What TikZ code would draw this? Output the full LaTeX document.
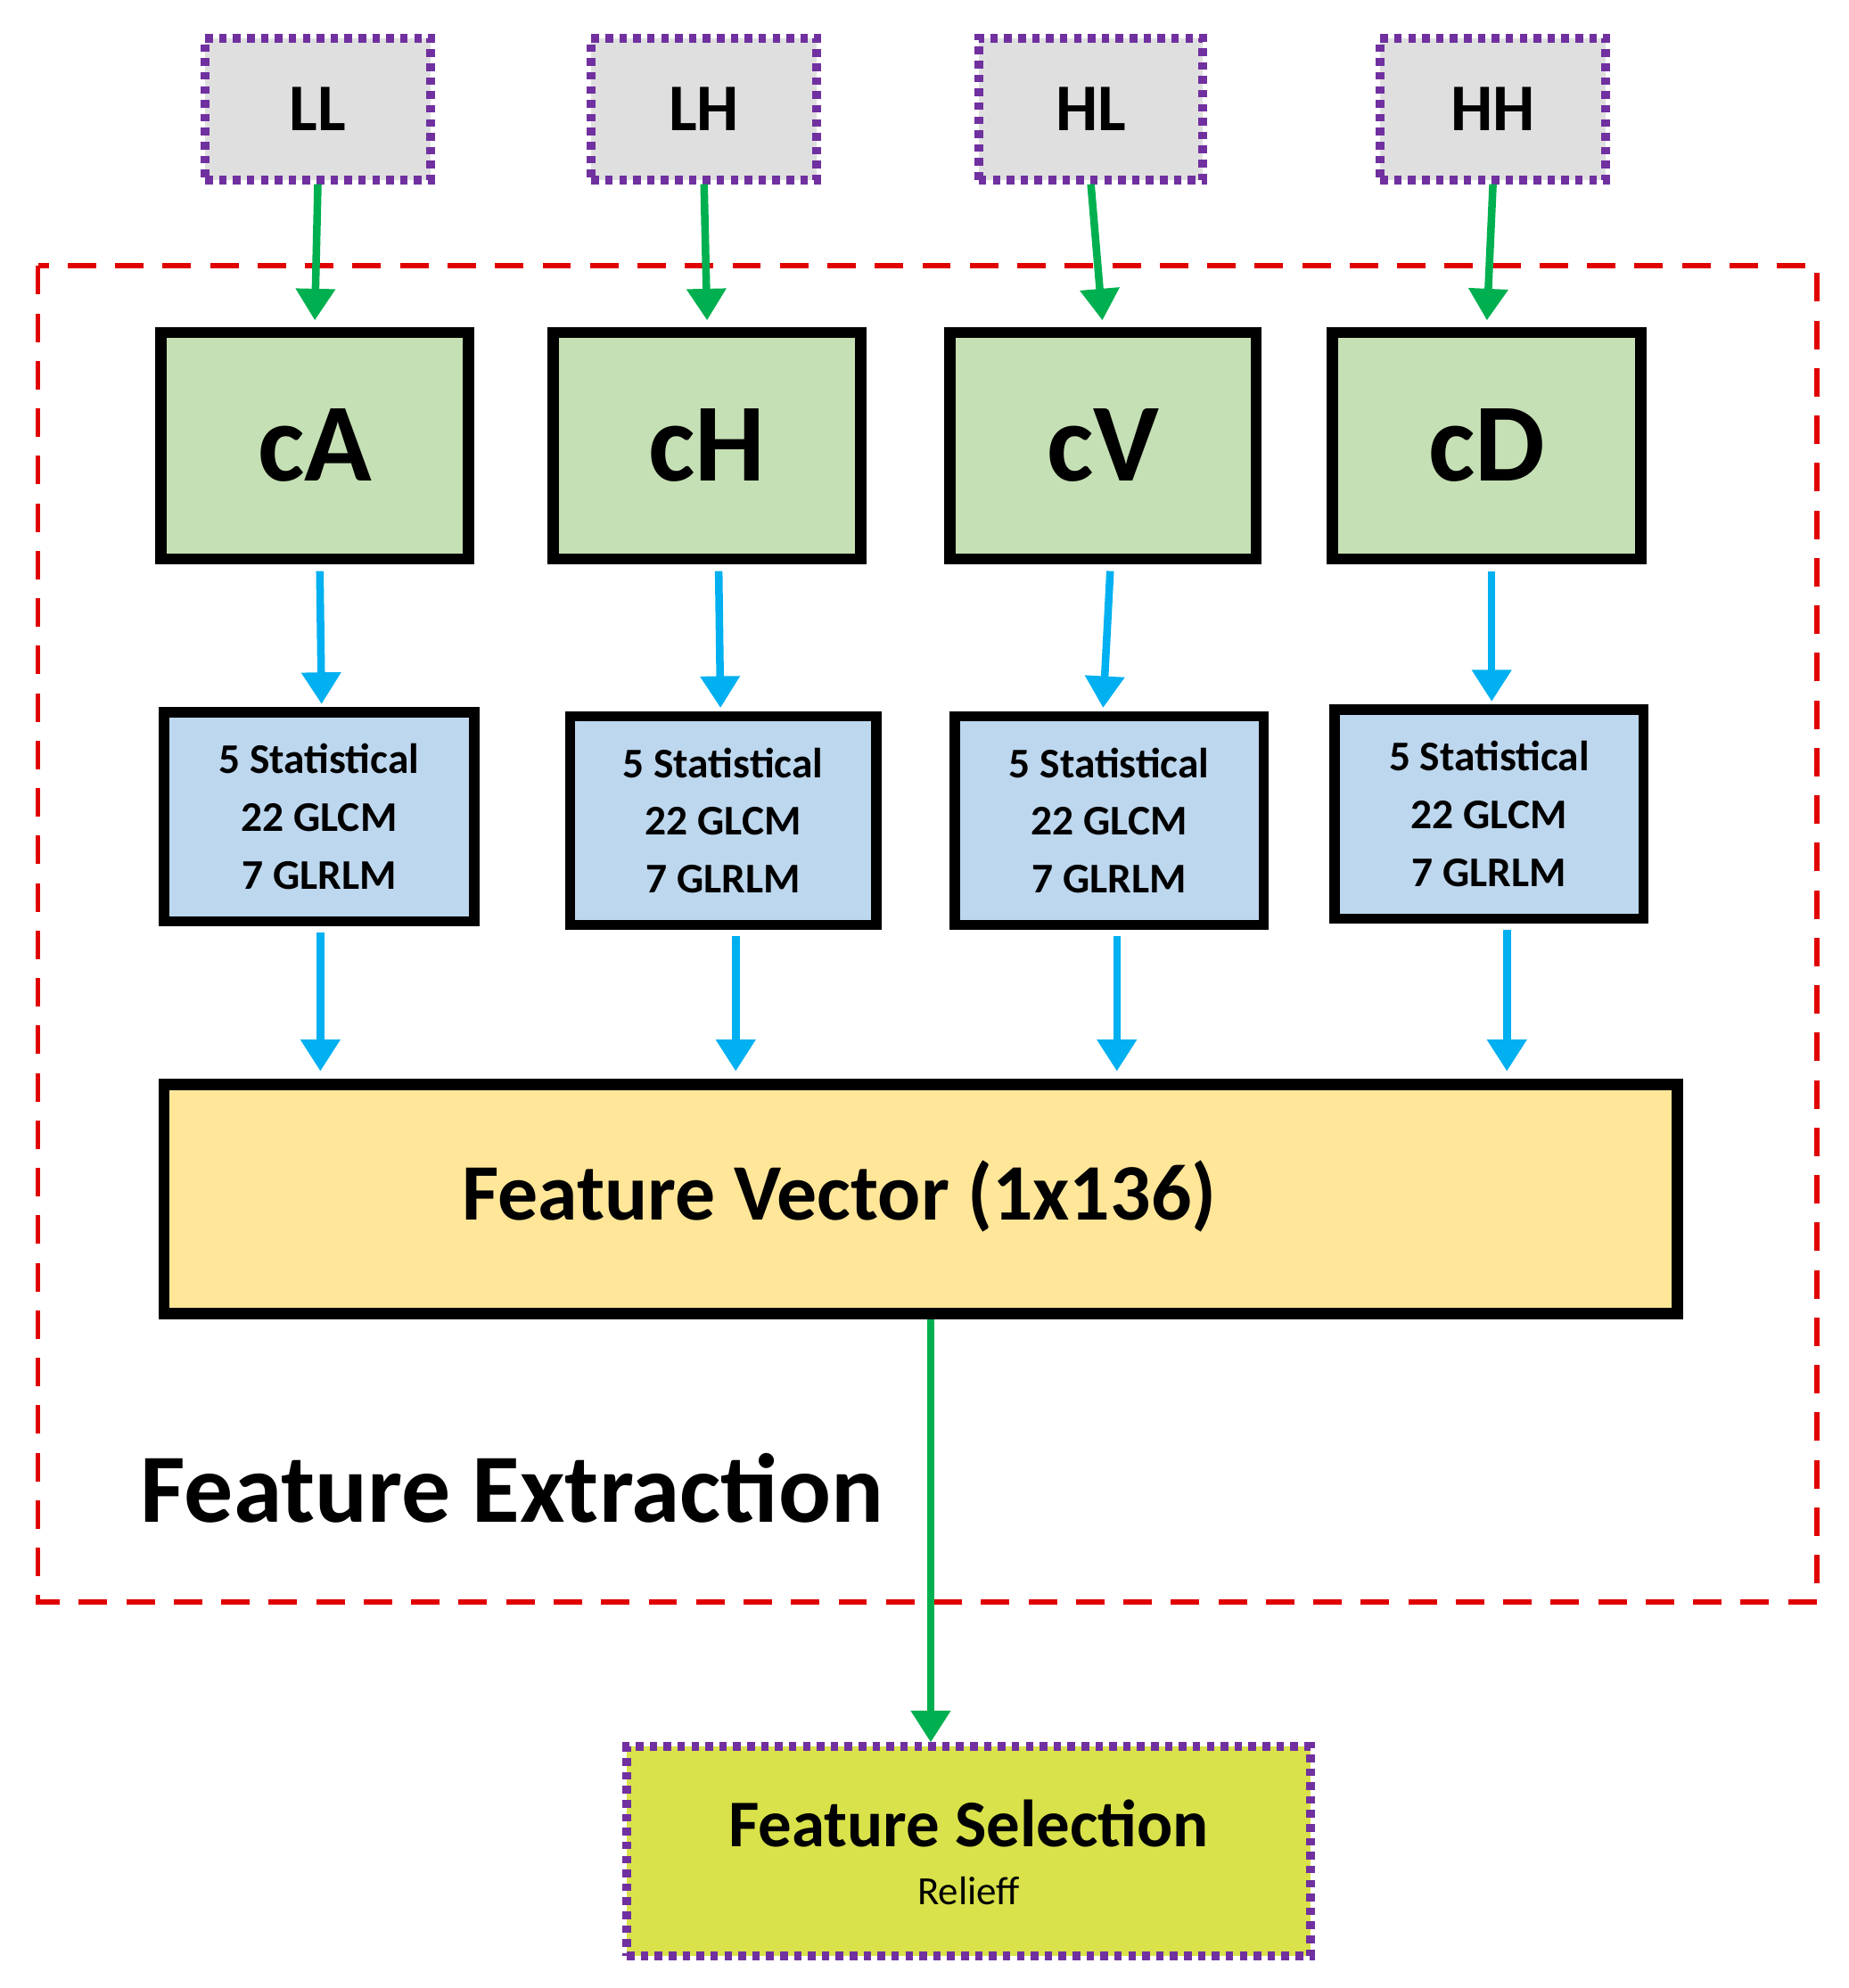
\documentclass[tikz,border=0pt]{standalone}
\usepackage{fontspec}
\setmainfont{Carlito}
\usetikzlibrary{arrows.meta}
\definecolor{grn}{HTML}{00B050}
\definecolor{blu}{HTML}{00B0F0}
\definecolor{gbox}{HTML}{C5E0B4}
\definecolor{bbox}{HTML}{BDD7EE}
\definecolor{ybox}{HTML}{FFE699}
\definecolor{sbox}{HTML}{D9E24A}
\definecolor{pur}{HTML}{7030A0}
\definecolor{red}{HTML}{E00000}
\begin{document}
\begin{tikzpicture}[x=0.02cm,y=-0.02cm,
  top/.style={draw=pur,line width=0.14cm,dash pattern=on 0.12cm off 0.1cm,fill=gray!25,font=\fontsize{30}{34}\selectfont\bfseries,inner sep=0},
  gb/.style={draw=black,line width=0.18cm,fill=gbox,font=\fontsize{50}{56}\selectfont\bfseries,inner sep=0},
  bb/.style={draw=black,line width=0.16cm,fill=bbox,font=\fontsize{19}{26}\selectfont\bfseries,align=center,inner sep=0},
  ga/.style={draw=grn,line width=0.12cm,-{Triangle[width=0.6cm,length=0.5cm]}},
  ba/.style={draw=blu,line width=0.12cm,-{Triangle[width=0.6cm,length=0.5cm]}}]
\useasboundingbox (0,0) rectangle (1460,1570);
\draw[red,line width=0.08cm,dash pattern=on 0.45cm off 0.3cm] (30,210) rectangle (1435,1265);
\foreach \n/\t/\a/\b in {LL/LL/162/340,LH/LH/467/645,HL/HL/773/950,HH/HH/1090/1268}
  \node[top,minimum width={(\b-\a)*0.02cm},minimum height=2.24cm] (\n) at ({(\a+\b)/2},86) {\t};
\foreach \n/\t/\a/\b in {cA/cA/127/370,cH/cH/437/680,cV/cV/750/992,cD/cD/1052/1296}
  \node[gb,minimum width={(\b-\a)*0.02cm},minimum height=3.58cm] (\n) at ({(\a+\b)/2},352) {\t};
\node[bb,minimum width=4.9cm,minimum height=3.3cm] (s1) at (252,645) {5 Statistical\\22 GLCM\\7 GLRLM};
\node[bb,minimum width=4.84cm,minimum height=3.3cm] (s2) at (571,648) {5 Statistical\\22 GLCM\\7 GLRLM};
\node[bb,minimum width=4.88cm,minimum height=3.3cm] (s3) at (876,648) {5 Statistical\\22 GLCM\\7 GLRLM};
\node[bb,minimum width=4.88cm,minimum height=3.3cm] (s4) at (1176,643) {5 Statistical\\22 GLCM\\7 GLRLM};
\node[draw=black,line width=0.18cm,fill=ybox,minimum width=23.9cm,minimum height=3.62cm,inner sep=0] (fv) at (727,947) {};
\node[font=\fontsize{36}{40}\selectfont\bfseries] (fvt) at (663,945) {Feature Vector (1x136)};
\node[font=\fontsize{44}{48}\selectfont\bfseries,anchor=west] (fe) at (105,1175) {Feature Extraction};
\node[draw=pur,line width=0.14cm,dash pattern=on 0.12cm off 0.1cm,fill=sbox,minimum width=10.8cm,minimum height=3.3cm,inner sep=0] (fs) at (765,1462) {};
\node[font=\fontsize{30}{34}\selectfont\bfseries] (fst) at (765,1440) {Feature Selection};
\node[font=\fontsize{18}{22}\selectfont] (rl) at (765,1493) {Relieff};
\foreach \a/\b in {LL/cA,LH/cH,HL/cV,HH/cD} \draw[ga,shorten >=0.1cm] (\a.south) -- (\b.north);
\foreach \a/\b/\dx/\ex in {cA/s1/4/2,cH/s2/9/-2,cV/s3/6/-5,cD/s4/4/2}
  \draw[ba,shorten <=0.1cm,shorten >=0.05cm] ([xshift=\dx*0.02cm]\a.south) -- ([xshift=\ex*0.02cm]\b.north);
\foreach \a/\x in {s1/253,s2/581,s3/882,s4/1190}
  \coordinate (e\a) at (\x,846);
\foreach \a/\x in {s1/253,s2/581,s3/882,s4/1190}
  \draw[ba,shorten <=0.1cm] (\a.south -| e\a) -- (e\a);
\draw[ga] (fv.south -| 735,0) -- (fs.north -| 735,0);
\end{tikzpicture}
\end{document}
